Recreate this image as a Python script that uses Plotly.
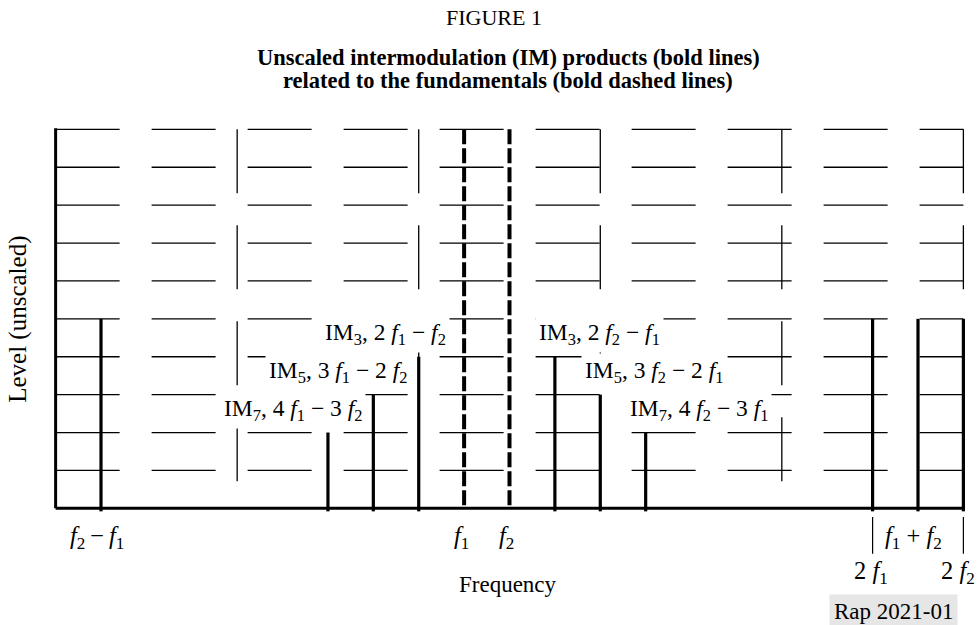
import plotly.graph_objects as go

SERIF = "Liberation Serif"

# Frequencies in units of the tone spacing (f2 - f1); f1 = 9, f2 = 10
fund_freq = [9, 10]
fund_level = [10, 10]

im_names = ["IM<sub>3</sub>", "IM<sub>5</sub>", "IM<sub>7</sub>"]
im_low_freq = [8, 7, 6]        # 2f1-f2, 3f1-2f2, 4f1-3f2
im_low_text = ["2 <i>f</i><sub>1</sub> − <i>f</i><sub>2</sub>",
               "3 <i>f</i><sub>1</sub> − 2 <i>f</i><sub>2</sub>",
               "4 <i>f</i><sub>1</sub> − 3 <i>f</i><sub>2</sub>"]
im_high_freq = [11, 12, 13]    # 2f2-f1, 3f2-2f1, 4f2-3f1
im_high_text = ["2 <i>f</i><sub>2</sub> − <i>f</i><sub>1</sub>",
                "3 <i>f</i><sub>2</sub> − 2 <i>f</i><sub>1</sub>",
                "4 <i>f</i><sub>2</sub> − 3 <i>f</i><sub>1</sub>"]
im_level = [4, 3, 2]

# second-order products: f2-f1, 2f1, f1+f2, 2f2
h2_freq = [1, 18, 19, 20]
h2_level = [5, 5, 5, 5]

grid_rows = [1, 2, 3, 4, 5, 6, 7, 8, 9, 10]
grid_cols = [4, 8, 12, 16, 20]
freq_max = 20
level_max = 10

fig = go.Figure()

# background grid: dashed rows and columns
grid_dash = "64px,32px"
for r in grid_rows:
    fig.add_shape(type="line", xref="x", yref="y", x0=0, x1=freq_max, y0=r, y1=r,
                  line=dict(color="black", width=1.3, dash=grid_dash), layer="below")
for c in grid_cols:
    fig.add_shape(type="line", xref="x", yref="y", x0=c, x1=c, y0=level_max, y1=0,
                  line=dict(color="black", width=1.3, dash=grid_dash), layer="below")

# axes
fig.add_shape(type="line", xref="x", yref="y", x0=0, x1=0, y0=0, y1=level_max + 0.03,
              line=dict(color="black", width=3))
fig.add_shape(type="line", xref="x", yref="y", x0=0, x1=freq_max, y0=0, y1=0,
              line=dict(color="black", width=3))


def spikes(freqs, levels):
    xs, ys = [], []
    for f, lv in zip(freqs, levels):
        xs += [f, f, None]
        ys += [lv, -0.08, None]
    return xs, ys


# fundamentals (bold dashed)
for f, lv in zip(fund_freq, fund_level):
    fig.add_trace(go.Scatter(x=[f, f], y=[lv, 0], mode="lines",
                             line=dict(color="black", width=4, dash="15px,4px"),
                             hoverinfo="skip", showlegend=False))

# intermodulation and second-order products (bold)
for fr, lv in [(im_low_freq, im_level), (im_high_freq, im_level), (h2_freq, h2_level)]:
    xs, ys = spikes(fr, lv)
    fig.add_trace(go.Scatter(x=xs, y=ys, mode="lines",
                             line=dict(color="black", width=3.2),
                             hoverinfo="skip", showlegend=False))

# product labels, knocked out of the grid
lab_font = dict(family=SERIF, size=23.5, color="black")
low_edge = [8.68, 7.82, 6.83]
high_edge = [10.57, 11.58, 12.57]
for name, txt, lv, xe in zip(im_names, im_low_text, im_level, low_edge):
    fig.add_annotation(x=xe, y=lv + 0.6, xref="x", yref="y", text=f"{name}, {txt}",
                       showarrow=False, xanchor="right", yanchor="middle",
                       bgcolor="white", borderpad=3, font=lab_font)
for name, txt, lv, xe in zip(im_names, im_high_text, im_level, high_edge):
    fig.add_annotation(x=xe, y=lv + 0.6, xref="x", yref="y", text=f"{name}, {txt}",
                       showarrow=False, xanchor="left", yanchor="middle",
                       bgcolor="white", borderpad=3, font=lab_font)

# frequency labels under the axis
tick_font = dict(family=SERIF, size=24.5, color="black")
tick_labels = [
    (0.92, -0.76, "<i>f</i><sub>2</sub>\u2009−\u2009<i>f</i><sub>1</sub>"),
    (8.95, -0.76, "<i>f</i><sub>1</sub>"),
    (9.93, -0.76, "<i>f</i><sub>2</sub>"),
    (18.9, -0.78, "<i>f</i><sub>1</sub> + <i>f</i><sub>2</sub>"),
    (17.96, -1.7, "2 <i>f</i><sub>1</sub>"),
    (19.88, -1.7, "2 <i>f</i><sub>2</sub>"),
]
for x, y, t in tick_labels:
    fig.add_annotation(x=x, y=y, xref="x", yref="y", text=t, showarrow=False,
                       xanchor="center", yanchor="middle", font=tick_font)

# leader lines for 2f1 and 2f2
for f in [18, 20]:
    fig.add_shape(type="line", xref="x", yref="y", x0=f, x1=f, y0=-0.23, y1=-1.2,
                  line=dict(color="black", width=1.2))

fig.add_annotation(x=9.96, y=-2.0, xref="x", yref="y", text="Frequency", showarrow=False,
                   font=dict(family=SERIF, size=23, color="black"))
fig.add_annotation(x=18.47, y=-2.72, xref="x", yref="y", text="Rap 2021-01", showarrow=False,
                   bgcolor="#e6e6e6", borderpad=4,
                   font=dict(family=SERIF, size=23, color="black"))
fig.add_annotation(x=-0.0257, y=5.0, xref="paper", yref="y", text="Level (unscaled)",
                   showarrow=False, textangle=-90, xanchor="center", yanchor="middle",
                   font=dict(family=SERIF, size=25, color="black"))

# titles
fig.add_annotation(x=0.483, y=1.2, xref="paper", yref="paper", text="FIGURE 1",
                   showarrow=False, xanchor="center", yanchor="middle",
                   font=dict(family=SERIF, size=22, color="black"))
fig.add_annotation(x=0.4984, y=1.121, xref="paper", yref="paper",
                   text="<b>Unscaled intermodulation (IM) products (bold lines)</b>",
                   showarrow=False, xanchor="center", yanchor="middle",
                   font=dict(family=SERIF, size=22.5, color="black"))
fig.add_annotation(x=0.4984, y=1.075, xref="paper", yref="paper",
                   text="<b>related to the fundamentals (bold dashed lines)</b>",
                   showarrow=False, xanchor="center", yanchor="middle",
                   font=dict(family=SERIF, size=22.5, color="black"))

fig.update_xaxes(range=[-0.3, 20.3], visible=False, fixedrange=True)
fig.update_yaxes(range=[-3.0, 10.3], visible=False, fixedrange=True)
fig.update_layout(width=980, height=625, margin=dict(l=42, r=3, t=118, b=3),
                  plot_bgcolor="white", paper_bgcolor="white", showlegend=False)

fig.write_html("out.html", config={"displayModeBar": False})
